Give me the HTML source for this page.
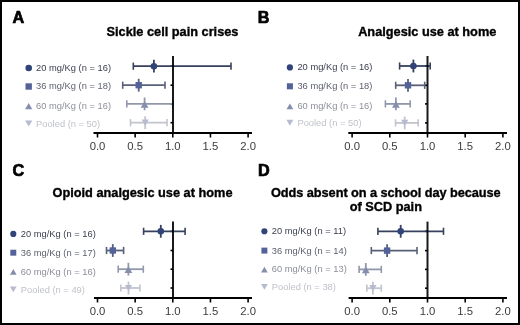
<!DOCTYPE html>
<html><head><meta charset="utf-8"><style>
html,body{margin:0;padding:0;background:#fff;}
svg{display:block;will-change:transform;}
text{font-family:"Liberation Sans", sans-serif;}
.let{font-size:16.2px;font-weight:bold;fill:#000;stroke:#000;stroke-width:0.7px;}
.ttl{font-size:12.75px;font-weight:bold;fill:#000;stroke:#000;stroke-width:0.35px;text-anchor:middle;}
.leg{font-size:9.35px;}
.tick{font-size:11.3px;fill:#3c3c3c;text-anchor:middle;}
</style></head><body>
<svg width="520" height="325" viewBox="0 0 520 325">
<rect x="1" y="1" width="518" height="323" fill="#fff" stroke="#000" stroke-width="2"/>
<text x="12.6" y="22.5" class="let">A</text>
<text x="172.5" y="36.3" class="ttl">Sickle cell pain crises</text>
<circle cx="28.70" cy="68.00" r="3.30" fill="#31447a"/>
<text transform="translate(36.0,70.70) scale(1,0.93)" class="leg" fill="#3b3e4e">20 mg/Kg (n = 16)</text>
<rect x="25.50" y="83.30" width="6.40" height="6.40" fill="#53639a"/>
<text transform="translate(36.0,89.20) scale(1,0.93)" class="leg" fill="#5c5f6e">36 mg/Kg (n = 18)</text>
<polygon points="28.70,103.10 32.30,109.30 25.10,109.30" fill="#868eae"/>
<text transform="translate(36.0,108.50) scale(1,0.93)" class="leg" fill="#8d8f9a">60 mg/Kg (n = 16)</text>
<polygon points="25.10,120.40 32.30,120.40 28.70,126.60" fill="#b6bbd0"/>
<text transform="translate(36.0,126.60) scale(1,0.93)" class="leg" fill="#c0c2ca">Pooled (n = 50)</text>
<line x1="170.5" y1="66.2" x2="173.0" y2="66.2" stroke="#000" stroke-width="1.6"/>
<line x1="170.5" y1="85.2" x2="173.0" y2="85.2" stroke="#000" stroke-width="1.6"/>
<line x1="170.5" y1="103.9" x2="173.0" y2="103.9" stroke="#000" stroke-width="1.6"/>
<line x1="170.5" y1="122.7" x2="173.0" y2="122.7" stroke="#000" stroke-width="1.6"/>
<line x1="93.5" y1="133.0" x2="252.0" y2="133.0" stroke="#000" stroke-width="2"/>
<line x1="97.5" y1="133.0" x2="97.5" y2="137.5" stroke="#000" stroke-width="1.6"/>
<text x="97.5" y="149.6" class="tick">0.0</text>
<line x1="135.15" y1="133.0" x2="135.15" y2="137.5" stroke="#000" stroke-width="1.6"/>
<text x="135.15" y="149.6" class="tick">0.5</text>
<line x1="172.8" y1="133.0" x2="172.8" y2="137.5" stroke="#000" stroke-width="1.6"/>
<text x="172.8" y="149.6" class="tick">1.0</text>
<line x1="210.45" y1="133.0" x2="210.45" y2="137.5" stroke="#000" stroke-width="1.6"/>
<text x="210.45" y="149.6" class="tick">1.5</text>
<line x1="248.1" y1="133.0" x2="248.1" y2="137.5" stroke="#000" stroke-width="1.6"/>
<text x="248.1" y="149.6" class="tick">2.0</text>
<line x1="133.3" y1="66.2" x2="231.0" y2="66.2" stroke="#37415e" stroke-width="1.8"/>
<line x1="133.3" y1="62.6" x2="133.3" y2="69.8" stroke="#37415e" stroke-width="1.6"/>
<line x1="231.0" y1="62.6" x2="231.0" y2="69.8" stroke="#37415e" stroke-width="1.6"/>
<line x1="153.9" y1="59.800000000000004" x2="153.9" y2="72.60000000000001" stroke="#37415e" stroke-width="1.8"/>
<circle cx="153.90" cy="66.20" r="3.30" fill="#31447a"/>
<line x1="122.7" y1="85.2" x2="165.0" y2="85.2" stroke="#596079" stroke-width="1.8"/>
<line x1="122.7" y1="81.60000000000001" x2="122.7" y2="88.8" stroke="#596079" stroke-width="1.6"/>
<line x1="165.0" y1="81.60000000000001" x2="165.0" y2="88.8" stroke="#596079" stroke-width="1.6"/>
<line x1="138.7" y1="78.8" x2="138.7" y2="91.60000000000001" stroke="#596079" stroke-width="1.8"/>
<rect x="135.50" y="82.00" width="6.40" height="6.40" fill="#53639a"/>
<line x1="126.8" y1="103.9" x2="172.9" y2="103.9" stroke="#9198aa" stroke-width="1.8"/>
<line x1="126.8" y1="100.30000000000001" x2="126.8" y2="107.5" stroke="#9198aa" stroke-width="1.6"/>
<line x1="172.9" y1="100.30000000000001" x2="172.9" y2="107.5" stroke="#9198aa" stroke-width="1.6"/>
<line x1="144.6" y1="97.5" x2="144.6" y2="110.30000000000001" stroke="#9198aa" stroke-width="1.8"/>
<polygon points="144.60,101.05 148.49,107.75 140.71,107.75" fill="#868eae"/>
<line x1="130.5" y1="122.7" x2="167.0" y2="122.7" stroke="#c2c4ce" stroke-width="1.8"/>
<line x1="130.5" y1="119.10000000000001" x2="130.5" y2="126.3" stroke="#c2c4ce" stroke-width="1.6"/>
<line x1="167.0" y1="119.10000000000001" x2="167.0" y2="126.3" stroke="#c2c4ce" stroke-width="1.6"/>
<line x1="145.2" y1="116.3" x2="145.2" y2="129.1" stroke="#c2c4ce" stroke-width="1.8"/>
<polygon points="141.60,119.60 148.80,119.60 145.20,125.80" fill="#b6bbd0"/>
<line x1="173.0" y1="56.0" x2="173.0" y2="133.0" stroke="#000" stroke-width="2" stroke-opacity="0.9"/>
<text x="257.7" y="22.8" class="let">B</text>
<text x="427.25" y="35.9" class="ttl">Analgesic use at home</text>
<circle cx="289.90" cy="67.40" r="3.13" fill="#31447a"/>
<text transform="translate(297.4,70.10) scale(1,0.93)" class="leg" fill="#3b3e4e">20 mg/Kg (n = 16)</text>
<rect x="286.86" y="83.26" width="6.08" height="6.08" fill="#53639a"/>
<text transform="translate(297.4,89.00) scale(1,0.93)" class="leg" fill="#5c5f6e">36 mg/Kg (n = 18)</text>
<polygon points="289.90,103.46 293.32,109.34 286.48,109.34" fill="#868eae"/>
<text transform="translate(297.4,108.70) scale(1,0.93)" class="leg" fill="#8d8f9a">60 mg/Kg (n = 16)</text>
<polygon points="286.48,119.86 293.32,119.86 289.90,125.74" fill="#b6bbd0"/>
<text transform="translate(297.4,125.90) scale(1,0.93)" class="leg" fill="#c0c2ca">Pooled (n = 50)</text>
<line x1="425.0" y1="66.0" x2="427.5" y2="66.0" stroke="#000" stroke-width="1.6"/>
<line x1="425.0" y1="85.3" x2="427.5" y2="85.3" stroke="#000" stroke-width="1.6"/>
<line x1="425.0" y1="103.9" x2="427.5" y2="103.9" stroke="#000" stroke-width="1.6"/>
<line x1="425.0" y1="122.9" x2="427.5" y2="122.9" stroke="#000" stroke-width="1.6"/>
<line x1="348.3" y1="133.0" x2="507.0" y2="133.0" stroke="#000" stroke-width="2"/>
<line x1="352.1" y1="133.0" x2="352.1" y2="137.5" stroke="#000" stroke-width="1.6"/>
<text x="352.1" y="149.6" class="tick">0.0</text>
<line x1="389.8" y1="133.0" x2="389.8" y2="137.5" stroke="#000" stroke-width="1.6"/>
<text x="389.8" y="149.6" class="tick">0.5</text>
<line x1="427.5" y1="133.0" x2="427.5" y2="137.5" stroke="#000" stroke-width="1.6"/>
<text x="427.5" y="149.6" class="tick">1.0</text>
<line x1="465.2" y1="133.0" x2="465.2" y2="137.5" stroke="#000" stroke-width="1.6"/>
<text x="465.2" y="149.6" class="tick">1.5</text>
<line x1="502.9" y1="133.0" x2="502.9" y2="137.5" stroke="#000" stroke-width="1.6"/>
<text x="502.9" y="149.6" class="tick">2.0</text>
<line x1="399.6" y1="66.0" x2="430.2" y2="66.0" stroke="#37415e" stroke-width="1.8"/>
<line x1="399.6" y1="62.4" x2="399.6" y2="69.6" stroke="#37415e" stroke-width="1.6"/>
<line x1="430.2" y1="62.4" x2="430.2" y2="69.6" stroke="#37415e" stroke-width="1.6"/>
<line x1="413.4" y1="59.6" x2="413.4" y2="72.4" stroke="#37415e" stroke-width="1.8"/>
<circle cx="413.40" cy="66.00" r="3.30" fill="#31447a"/>
<line x1="395.7" y1="85.3" x2="424.7" y2="85.3" stroke="#596079" stroke-width="1.8"/>
<line x1="395.7" y1="81.7" x2="395.7" y2="88.89999999999999" stroke="#596079" stroke-width="1.6"/>
<line x1="424.7" y1="81.7" x2="424.7" y2="88.89999999999999" stroke="#596079" stroke-width="1.6"/>
<line x1="408.0" y1="78.89999999999999" x2="408.0" y2="91.7" stroke="#596079" stroke-width="1.8"/>
<rect x="404.80" y="82.10" width="6.40" height="6.40" fill="#53639a"/>
<line x1="385.4" y1="103.9" x2="410.2" y2="103.9" stroke="#9198aa" stroke-width="1.8"/>
<line x1="385.4" y1="100.30000000000001" x2="385.4" y2="107.5" stroke="#9198aa" stroke-width="1.6"/>
<line x1="410.2" y1="100.30000000000001" x2="410.2" y2="107.5" stroke="#9198aa" stroke-width="1.6"/>
<line x1="395.9" y1="97.5" x2="395.9" y2="110.30000000000001" stroke="#9198aa" stroke-width="1.8"/>
<polygon points="395.90,101.05 399.79,107.75 392.01,107.75" fill="#868eae"/>
<line x1="395.5" y1="122.9" x2="418.2" y2="122.9" stroke="#c2c4ce" stroke-width="1.8"/>
<line x1="395.5" y1="119.30000000000001" x2="395.5" y2="126.5" stroke="#c2c4ce" stroke-width="1.6"/>
<line x1="418.2" y1="119.30000000000001" x2="418.2" y2="126.5" stroke="#c2c4ce" stroke-width="1.6"/>
<line x1="404.7" y1="116.5" x2="404.7" y2="129.3" stroke="#c2c4ce" stroke-width="1.8"/>
<polygon points="401.10,119.80 408.30,119.80 404.70,126.00" fill="#b6bbd0"/>
<line x1="427.5" y1="56.0" x2="427.5" y2="133.0" stroke="#000" stroke-width="2" stroke-opacity="0.9"/>
<text x="12.6" y="176.1" class="let">C</text>
<text x="142.5" y="196.6" class="ttl">Opioid analgesic use at home</text>
<circle cx="13.30" cy="233.90" r="3.07" fill="#31447a"/>
<text transform="translate(20.8,237.10) scale(1,0.93)" class="leg" fill="#3b3e4e">20 mg/Kg (n = 16)</text>
<rect x="10.32" y="249.72" width="5.95" height="5.95" fill="#53639a"/>
<text transform="translate(20.8,255.90) scale(1,0.93)" class="leg" fill="#5c5f6e">36 mg/Kg (n = 17)</text>
<polygon points="13.30,269.02 16.65,274.78 9.95,274.78" fill="#868eae"/>
<text transform="translate(20.8,274.70) scale(1,0.93)" class="leg" fill="#8d8f9a">60 mg/Kg (n = 16)</text>
<polygon points="9.95,286.52 16.65,286.52 13.30,292.28" fill="#b6bbd0"/>
<text transform="translate(20.8,293.00) scale(1,0.93)" class="leg" fill="#c0c2ca">Pooled (n = 49)</text>
<line x1="170.5" y1="231.3" x2="173.0" y2="231.3" stroke="#000" stroke-width="1.6"/>
<line x1="170.5" y1="250.5" x2="173.0" y2="250.5" stroke="#000" stroke-width="1.6"/>
<line x1="170.5" y1="269.2" x2="173.0" y2="269.2" stroke="#000" stroke-width="1.6"/>
<line x1="170.5" y1="288.0" x2="173.0" y2="288.0" stroke="#000" stroke-width="1.6"/>
<line x1="94.0" y1="298.0" x2="252.0" y2="298.0" stroke="#000" stroke-width="2"/>
<line x1="97.5" y1="298.0" x2="97.5" y2="302.5" stroke="#000" stroke-width="1.6"/>
<text x="97.5" y="315.4" class="tick">0.0</text>
<line x1="135.15" y1="298.0" x2="135.15" y2="302.5" stroke="#000" stroke-width="1.6"/>
<text x="135.15" y="315.4" class="tick">0.5</text>
<line x1="172.8" y1="298.0" x2="172.8" y2="302.5" stroke="#000" stroke-width="1.6"/>
<text x="172.8" y="315.4" class="tick">1.0</text>
<line x1="210.45" y1="298.0" x2="210.45" y2="302.5" stroke="#000" stroke-width="1.6"/>
<text x="210.45" y="315.4" class="tick">1.5</text>
<line x1="248.1" y1="298.0" x2="248.1" y2="302.5" stroke="#000" stroke-width="1.6"/>
<text x="248.1" y="315.4" class="tick">2.0</text>
<line x1="143.6" y1="231.3" x2="185.1" y2="231.3" stroke="#37415e" stroke-width="1.8"/>
<line x1="143.6" y1="227.70000000000002" x2="143.6" y2="234.9" stroke="#37415e" stroke-width="1.6"/>
<line x1="185.1" y1="227.70000000000002" x2="185.1" y2="234.9" stroke="#37415e" stroke-width="1.6"/>
<line x1="160.8" y1="224.9" x2="160.8" y2="237.70000000000002" stroke="#37415e" stroke-width="1.8"/>
<circle cx="160.80" cy="231.30" r="3.30" fill="#31447a"/>
<line x1="106.5" y1="250.5" x2="123.6" y2="250.5" stroke="#596079" stroke-width="1.8"/>
<line x1="106.5" y1="246.9" x2="106.5" y2="254.1" stroke="#596079" stroke-width="1.6"/>
<line x1="123.6" y1="246.9" x2="123.6" y2="254.1" stroke="#596079" stroke-width="1.6"/>
<line x1="112.8" y1="244.1" x2="112.8" y2="256.9" stroke="#596079" stroke-width="1.8"/>
<rect x="109.60" y="247.30" width="6.40" height="6.40" fill="#53639a"/>
<line x1="118.2" y1="269.2" x2="143.3" y2="269.2" stroke="#9198aa" stroke-width="1.8"/>
<line x1="118.2" y1="265.59999999999997" x2="118.2" y2="272.8" stroke="#9198aa" stroke-width="1.6"/>
<line x1="143.3" y1="265.59999999999997" x2="143.3" y2="272.8" stroke="#9198aa" stroke-width="1.6"/>
<line x1="128.4" y1="262.8" x2="128.4" y2="275.59999999999997" stroke="#9198aa" stroke-width="1.8"/>
<polygon points="128.40,266.35 132.29,273.05 124.51,273.05" fill="#868eae"/>
<line x1="120.8" y1="288.0" x2="140.0" y2="288.0" stroke="#c2c4ce" stroke-width="1.8"/>
<line x1="120.8" y1="284.4" x2="120.8" y2="291.6" stroke="#c2c4ce" stroke-width="1.6"/>
<line x1="140.0" y1="284.4" x2="140.0" y2="291.6" stroke="#c2c4ce" stroke-width="1.6"/>
<line x1="128.5" y1="281.6" x2="128.5" y2="294.4" stroke="#c2c4ce" stroke-width="1.8"/>
<polygon points="124.90,284.90 132.10,284.90 128.50,291.10" fill="#b6bbd0"/>
<line x1="173.0" y1="221.6" x2="173.0" y2="298.0" stroke="#000" stroke-width="2" stroke-opacity="0.9"/>
<text x="258.0" y="176.1" class="let">D</text>
<text x="385.8" y="196.8" class="ttl" style="letter-spacing:-0.06px">Odds absent on a school day because</text>
<text x="385.8" y="211.2" class="ttl">of SCD pain</text>
<circle cx="264.40" cy="231.20" r="3.07" fill="#31447a"/>
<text transform="translate(271.8,234.40) scale(1,0.93)" class="leg" fill="#3b3e4e">20 mg/Kg (n = 11)</text>
<rect x="261.42" y="247.62" width="5.95" height="5.95" fill="#53639a"/>
<text transform="translate(271.8,253.80) scale(1,0.93)" class="leg" fill="#5c5f6e">36 mg/Kg (n = 14)</text>
<polygon points="264.40,266.72 267.75,272.48 261.05,272.48" fill="#868eae"/>
<text transform="translate(271.8,272.40) scale(1,0.93)" class="leg" fill="#8d8f9a">60 mg/Kg (n = 13)</text>
<polygon points="261.05,283.92 267.75,283.92 264.40,289.68" fill="#b6bbd0"/>
<text transform="translate(271.8,290.40) scale(1,0.93)" class="leg" fill="#c0c2ca">Pooled (n = 38)</text>
<line x1="425.0" y1="231.3" x2="427.5" y2="231.3" stroke="#000" stroke-width="1.6"/>
<line x1="425.0" y1="250.6" x2="427.5" y2="250.6" stroke="#000" stroke-width="1.6"/>
<line x1="425.0" y1="269.4" x2="427.5" y2="269.4" stroke="#000" stroke-width="1.6"/>
<line x1="425.0" y1="288.2" x2="427.5" y2="288.2" stroke="#000" stroke-width="1.6"/>
<line x1="348.6" y1="298.0" x2="507.0" y2="298.0" stroke="#000" stroke-width="2"/>
<line x1="352.1" y1="298.0" x2="352.1" y2="302.5" stroke="#000" stroke-width="1.6"/>
<text x="352.1" y="315.4" class="tick">0.0</text>
<line x1="389.8" y1="298.0" x2="389.8" y2="302.5" stroke="#000" stroke-width="1.6"/>
<text x="389.8" y="315.4" class="tick">0.5</text>
<line x1="427.5" y1="298.0" x2="427.5" y2="302.5" stroke="#000" stroke-width="1.6"/>
<text x="427.5" y="315.4" class="tick">1.0</text>
<line x1="465.2" y1="298.0" x2="465.2" y2="302.5" stroke="#000" stroke-width="1.6"/>
<text x="465.2" y="315.4" class="tick">1.5</text>
<line x1="502.9" y1="298.0" x2="502.9" y2="302.5" stroke="#000" stroke-width="1.6"/>
<text x="502.9" y="315.4" class="tick">2.0</text>
<line x1="377.9" y1="231.3" x2="443.5" y2="231.3" stroke="#37415e" stroke-width="1.8"/>
<line x1="377.9" y1="227.70000000000002" x2="377.9" y2="234.9" stroke="#37415e" stroke-width="1.6"/>
<line x1="443.5" y1="227.70000000000002" x2="443.5" y2="234.9" stroke="#37415e" stroke-width="1.6"/>
<line x1="400.7" y1="224.9" x2="400.7" y2="237.70000000000002" stroke="#37415e" stroke-width="1.8"/>
<circle cx="400.70" cy="231.30" r="3.30" fill="#31447a"/>
<line x1="371.3" y1="250.6" x2="417.0" y2="250.6" stroke="#596079" stroke-width="1.8"/>
<line x1="371.3" y1="247.0" x2="371.3" y2="254.2" stroke="#596079" stroke-width="1.6"/>
<line x1="417.0" y1="247.0" x2="417.0" y2="254.2" stroke="#596079" stroke-width="1.6"/>
<line x1="387.1" y1="244.2" x2="387.1" y2="257.0" stroke="#596079" stroke-width="1.8"/>
<rect x="383.90" y="247.40" width="6.40" height="6.40" fill="#53639a"/>
<line x1="359.1" y1="269.4" x2="381.3" y2="269.4" stroke="#9198aa" stroke-width="1.8"/>
<line x1="359.1" y1="265.79999999999995" x2="359.1" y2="273.0" stroke="#9198aa" stroke-width="1.6"/>
<line x1="381.3" y1="265.79999999999995" x2="381.3" y2="273.0" stroke="#9198aa" stroke-width="1.6"/>
<line x1="365.8" y1="263.0" x2="365.8" y2="275.79999999999995" stroke="#9198aa" stroke-width="1.8"/>
<polygon points="365.80,266.55 369.69,273.25 361.91,273.25" fill="#868eae"/>
<line x1="366.8" y1="288.2" x2="381.3" y2="288.2" stroke="#c2c4ce" stroke-width="1.8"/>
<line x1="366.8" y1="284.59999999999997" x2="366.8" y2="291.8" stroke="#c2c4ce" stroke-width="1.6"/>
<line x1="381.3" y1="284.59999999999997" x2="381.3" y2="291.8" stroke="#c2c4ce" stroke-width="1.6"/>
<line x1="372.9" y1="281.8" x2="372.9" y2="294.59999999999997" stroke="#c2c4ce" stroke-width="1.8"/>
<polygon points="369.30,285.10 376.50,285.10 372.90,291.30" fill="#b6bbd0"/>
<line x1="427.5" y1="221.6" x2="427.5" y2="298.0" stroke="#000" stroke-width="2" stroke-opacity="0.9"/>
</svg>
</body></html>
